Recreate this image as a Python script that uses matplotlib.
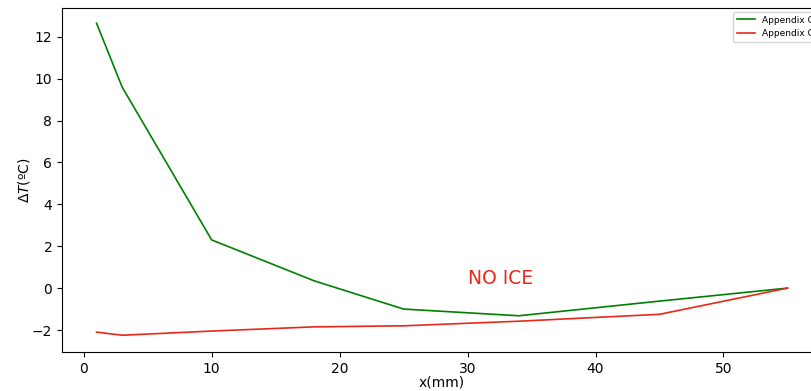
import matplotlib
matplotlib.use("Agg")
import matplotlib.pyplot as plt

# Temperature difference along the plate
x_mm = [1, 3, 10, 18, 25, 34, 45, 55]
dT_ice = [12.65, 9.6, 2.3, 0.35, -1.0, -1.32, -0.62, 0.0]
dT_noice = [-2.1, -2.25, -2.05, -1.85, -1.8, -1.58, -1.25, 0.0]
labels = ["Appendix C (ice)", "Appendix C (no ice)"]

fig = plt.figure(figsize=(8.12, 3.91), dpi=100)
ax = fig.add_axes([62 / 812, 39 / 391, 760 / 812, 344.5 / 391])

ax.plot(x_mm, dT_ice, color="green", lw=1.2, label=labels[0])
ax.plot(x_mm, dT_noice, color="#e8281a", lw=1.2, label=labels[1])

ax.text(30, 0.0, "NO ICE", color="#e8281a", fontsize=13.5, ha="left", va="bottom")

ax.set_xlim(-1.7, 57.7)
ax.set_ylim(-3.05, 13.4)
ax.set_xticks([0, 10, 20, 30, 40, 50])
ax.set_yticks([-2, 0, 2, 4, 6, 8, 10, 12])
ax.tick_params(labelsize=10)
ax.set_xlabel("x(mm)", fontsize=10, labelpad=0)
ax.set_ylabel(r"$\Delta T$(ºC)", fontsize=10)
ax.yaxis.set_label_coords(-0.04, 0.5)

ax.legend(loc="upper left", bbox_to_anchor=(733 / 812, 1 - 12 / 391),
          bbox_transform=fig.transFigure, fontsize=6.5, borderaxespad=0)

fig.savefig("out.png", dpi=100)
